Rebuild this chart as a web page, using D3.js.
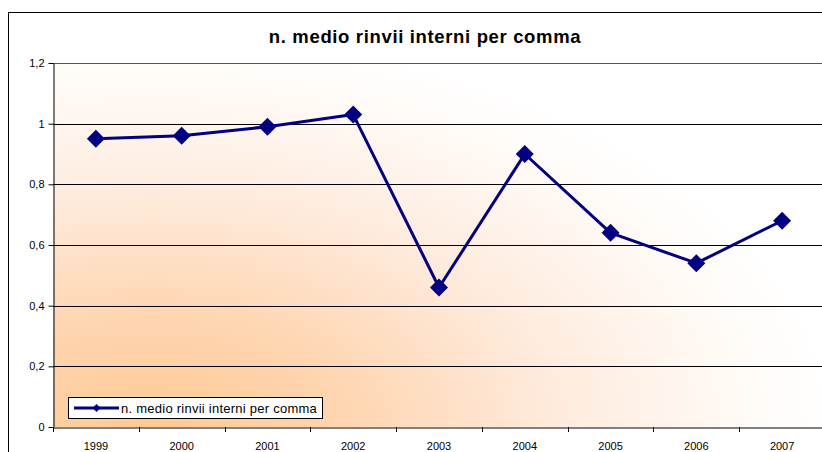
<!DOCTYPE html>
<html><head><meta charset="utf-8">
<script src="https://cdn.jsdelivr.net/npm/d3@7"></script>
<style>body{margin:0;background:#fff;}svg{display:block;font-family:"Liberation Sans",Arial,sans-serif;}</style>
</head><body>
<svg id="c" width="822" height="452"></svg>
<script>
const categories = ["1999","2000","2001","2002","2003","2004","2005","2006","2007"];
const values = [0.95, 0.96, 0.99, 1.03, 0.46, 0.90, 0.64, 0.54, 0.68];
const yTicks = [0, 0.2, 0.4, 0.6, 0.8, 1, 1.2];
const seriesName = "n. medio rinvii interni per comma";
const title = "n. medio rinvii interni per comma";

const svg = d3.select("#c");
const m = {left: 53, top: 63, right: 825, bottom: 427};

// chart area border
svg.append("rect").attr("x", 8.5).attr("y", 12.5).attr("width", 834).attr("height", 460)
  .attr("fill", "#fff").attr("stroke", "#000").attr("stroke-width", 1);

const defs = svg.append("defs");
const gcx = 150, gcy = 430;
const g = defs.append("radialGradient").attr("id", "bg")
  .attr("gradientUnits", "userSpaceOnUse")
  .attr("cx", gcx).attr("cy", gcy).attr("r", 680).attr("fx", gcx).attr("fy", gcy)
  .attr("gradientTransform", `translate(${gcx},${gcy}) scale(1,0.58) translate(${-gcx},${-gcy})`);
g.append("stop").attr("offset", 0).attr("stop-color", "#FFC993");
g.append("stop").attr("offset", 0.3).attr("stop-color", "#FED6B2");
g.append("stop").attr("offset", 0.6).attr("stop-color", "#FEEBDD");
g.append("stop").attr("offset", 0.85).attr("stop-color", "#FFF9F4");
g.append("stop").attr("offset", 1).attr("stop-color", "#FFFFFF");

const x = d3.scaleBand().domain(categories).range([m.left, m.right]);
const y = d3.scaleLinear().domain([0, 1.2]).range([m.bottom, m.top]);

svg.append("rect").attr("x", m.left).attr("y", m.top)
  .attr("width", m.right - m.left).attr("height", m.bottom - m.top).attr("fill", "url(#bg)");

// gridlines
svg.append("g").selectAll("line").data(yTicks.filter(d => d > 0)).join("line")
  .attr("x1", m.left).attr("x2", m.right)
  .attr("y1", d => Math.round(y(d)) + 0.5).attr("y2", d => Math.round(y(d)) + 0.5)
  .attr("stroke", d => d === 1.2 ? "#555" : "#000").attr("stroke-width", 1);

const fmt = d => String(+d.toFixed(1)).replace(".", ",");

// y axis
const ya = svg.append("g").attr("transform", `translate(${m.left + 0.5},0)`)
  .call(d3.axisLeft(y).tickValues(yTicks).tickFormat(fmt).tickSize(5).tickSizeOuter(0));
ya.select(".domain").attr("stroke", "#000");
ya.selectAll(".tick line").attr("stroke", "#000");
ya.selectAll(".tick text").attr("font-size", "11px").attr("fill", "#000")
  .attr("font-family", "Liberation Sans, Arial, sans-serif").attr("x", -9);

// x axis
const xa = svg.append("g").attr("transform", `translate(0,${m.bottom + 0.5})`)
  .call(d3.axisBottom(x).tickSize(0).tickSizeOuter(0));
xa.select(".domain").attr("stroke", "#000");
xa.selectAll(".tick line").remove();
xa.selectAll(".tick text").attr("font-size", "11px").attr("fill", "#000")
  .attr("font-family", "Liberation Sans, Arial, sans-serif").attr("dy", "0").attr("y", 22);
// category boundary ticks
svg.append("g").selectAll("line").data(categories).join("line")
  .attr("x1", d => Math.round(x(d)) + 0.5).attr("x2", d => Math.round(x(d)) + 0.5)
  .attr("y1", m.bottom).attr("y2", m.bottom + 5).attr("stroke", "#000");

// line
const cx = d => x(d) + x.bandwidth() / 2;
svg.append("path").datum(values)
  .attr("d", d3.line().x((d, i) => cx(categories[i])).y(d => y(d)))
  .attr("fill", "none").attr("stroke", "#000080").attr("stroke-width", 3).attr("stroke-linejoin", "round");

const dm = 9;
svg.append("g").selectAll("path").data(values).join("path")
  .attr("transform", (d, i) => `translate(${cx(categories[i])},${y(d)})`)
  .attr("d", `M0,${-dm}L${dm},0L0,${dm}L${-dm},0Z`).attr("fill", "#000080");

// title
svg.append("text").attr("x", 425).attr("y", 43).attr("text-anchor", "middle")
  .attr("font-size", "18.5px").attr("font-weight", "bold").attr("letter-spacing", "0.65px")
  .attr("fill", "#000").text(title);

// legend
const lg = svg.append("g");
lg.append("rect").attr("x", 68.5).attr("y", 397.5).attr("width", 254).attr("height", 21)
  .attr("fill", "#fff").attr("stroke", "#000");
lg.append("line").attr("x1", 74).attr("x2", 119).attr("y1", 408).attr("y2", 408)
  .attr("stroke", "#000080").attr("stroke-width", 3);
lg.append("path").attr("transform", "translate(96.5,408)")
  .attr("d", "M0,-4L4,0L0,4L-4,0Z").attr("fill", "#000080");
lg.append("text").attr("x", 121).attr("y", 412.5).attr("font-size", "13px").attr("letter-spacing", "0.25px")
  .attr("fill", "#000").text(seriesName);
</script>
</body></html>
